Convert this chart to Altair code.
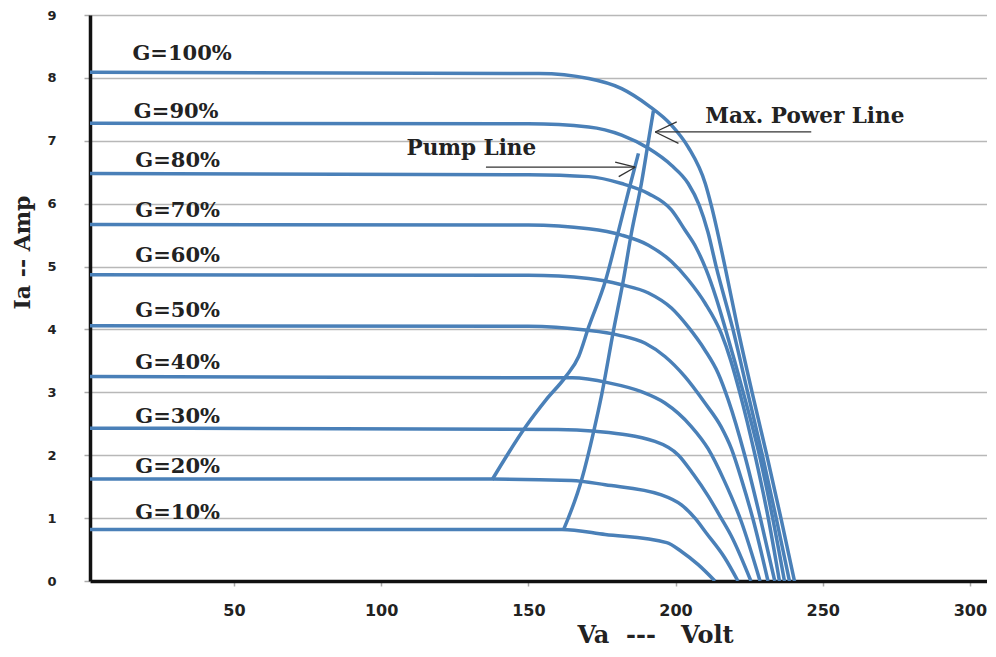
import altair as alt
import pandas as pd

# ---- I-V curves (Va in volts, Ia in amps) ----
g10_v = [0, 161.4, 176.1, 197.0, 202.0, 207.7, 213.4]
g10_i = [0.82, 0.82, 0.74, 0.61, 0.47, 0.26, 0.0]

g20_v = [0, 137.7, 164.7, 176.1, 195.2, 202.0, 206.6, 210.5, 216.7, 221.2]
g20_i = [1.62, 1.62, 1.60, 1.53, 1.37, 1.21, 1.00, 0.76, 0.37, 0.0]

g30_v = [0, 160.0, 172.8, 193.0, 201.0, 206.0, 211.1, 215.5, 218.9, 225.6]
g30_i = [2.43, 2.41, 2.38, 2.22, 2.00, 1.70, 1.35, 1.00, 0.72, 0.0]

g40_v = [0, 165.0, 177.3, 188.4, 196.4, 205.3, 211.1, 216.5, 222.3, 228.7]
g40_i = [3.25, 3.23, 3.15, 3.01, 2.83, 2.46, 2.10, 1.60, 0.95, 0.0]

g50_v = [0, 150.0, 169.4, 180.6, 189.7, 196.4, 203.2, 210.0, 215.5, 219.0, 222.5, 226.5, 231.4]
g50_i = [4.06, 4.05, 3.99, 3.91, 3.78, 3.57, 3.25, 2.83, 2.45, 2.10, 1.60, 0.95, 0.0]

g60_v = [0, 150.0, 170.5, 181.7, 190.8, 198.6, 204.3, 210.0, 214.5, 217.9, 223.5, 228.8, 233.7]
g60_i = [4.87, 4.86, 4.81, 4.71, 4.58, 4.34, 4.04, 3.67, 3.30, 2.88, 2.00, 1.00, 0.0]

g70_v = [0, 150.0, 170.5, 181.7, 190.8, 198.6, 204.3, 210.0, 215.5, 218.8, 221.8, 227.0, 231.5, 235.3]
g70_i = [5.67, 5.66, 5.60, 5.50, 5.34, 5.08, 4.79, 4.42, 3.94, 3.50, 3.00, 2.00, 1.00, 0.0]

g80_v = [0, 150.0, 170.5, 181.7, 190.8, 198.6, 203.2, 207.0, 210.4, 213.8, 217.0, 223.0, 228.5, 233.0, 237.0]
g80_i = [6.48, 6.46, 6.43, 6.32, 6.16, 5.90, 5.58, 5.30, 4.95, 4.50, 4.00, 3.00, 2.00, 1.00, 0.0]

g90_v = [0, 150.0, 170.5, 181.7, 190.8, 198.6, 204.3, 208.0, 211.0, 213.8, 219.5, 224.5, 229.5, 234.2, 238.7]
g90_i = [7.28, 7.27, 7.22, 7.09, 6.88, 6.61, 6.32, 5.98, 5.55, 5.00, 4.00, 3.00, 2.00, 1.00, 0.0]

g100_v = [0, 153.6, 170.5, 181.7, 190.8, 198.6, 204.3, 210.1, 212.1, 216.8, 221.2, 226.0, 231.0, 235.8, 240.4]
g100_i = [8.09, 8.07, 7.99, 7.83, 7.56, 7.25, 6.90, 6.32, 5.98, 5.00, 4.00, 3.00, 2.00, 1.00, 0.0]

# ---- pump line and maximum power line ----
pump_v = [137.7, 149.2, 156.0, 162.7, 167.1, 170.5, 176.3, 180.7, 184.1, 187.4]
pump_i = [1.61, 2.46, 2.88, 3.25, 3.57, 4.04, 4.79, 5.58, 6.21, 6.80]

mpl_v = [162.0, 168.1, 172.2, 174.9, 179.0, 182.3, 185.0, 188.4, 190.8, 192.5]
mpl_i = [0.82, 1.61, 2.38, 2.96, 4.00, 4.79, 5.53, 6.32, 7.00, 7.48]

# ---- curve labels ----
label_text = ["G=10%", "G=20%", "G=30%", "G=40%", "G=50%",
              "G=60%", "G=70%", "G=80%", "G=90%", "G=100%"]
label_v = [16.5, 16.5, 16.5, 16.5, 16.5, 16.5, 16.5, 16.5, 16.0, 15.5]
label_i = [0.99, 1.71, 2.51, 3.37, 4.20, 5.07, 5.79, 6.58, 7.36, 8.29]

# ---- annotations ----
note_text = ["Pump Line", "Max. Power Line"]
note_v = [108.6, 210.1]
note_i = [6.77, 7.28]

# arrow segments: shaft + two head strokes for each arrow
arrow_v1 = [135.6, 179.5, 180.7, 246.1, 200.4, 201.0]
arrow_i1 = [6.58, 6.66, 6.43, 7.14, 7.30, 6.96]
arrow_v2 = [186.3, 186.3, 186.3, 193.1, 193.1, 193.1]
arrow_i2 = [6.58, 6.58, 6.58, 7.14, 7.14, 7.14]

x_title = "Va\u00a0\u00a0---\u00a0\u00a0\u00a0Volt"
y_title = "Ia -- Amp"

series = [
    ("G=10%", g10_v, g10_i), ("G=20%", g20_v, g20_i), ("G=30%", g30_v, g30_i),
    ("G=40%", g40_v, g40_i), ("G=50%", g50_v, g50_i), ("G=60%", g60_v, g60_i),
    ("G=70%", g70_v, g70_i), ("G=80%", g80_v, g80_i), ("G=90%", g90_v, g90_i),
    ("G=100%", g100_v, g100_i), ("pump", pump_v, pump_i), ("mpl", mpl_v, mpl_i),
]
rows = []
for name, vs, is_ in series:
    for k, (v, i) in enumerate(zip(vs, is_)):
        rows.append({"curve": name, "V": v, "I": i, "k": k})
curves_df = pd.DataFrame(rows)

labels_df = pd.DataFrame({"text": label_text, "V": label_v, "I": label_i})
notes_df = pd.DataFrame({"text": note_text, "V": note_v, "I": note_i})
arrows_df = pd.DataFrame({"V": arrow_v1, "I": arrow_i1, "V2": arrow_v2, "I2": arrow_i2})

xscale = alt.Scale(domain=[1.1, 305.8], nice=False, zero=False)
yscale = alt.Scale(domain=[0, 9], nice=False, zero=False)

xaxis = alt.Axis(
    values=[50, 100, 150, 200, 250, 300], grid=False, format="d",
    title=x_title, titleFont="DejaVu Serif", titleFontSize=24,
    titleFontWeight="bold", titleColor="#222", titleX=565, titleY=61,
    titleBaseline="alphabetic", titleAlign="center",
    labelFont="DejaVu Sans", labelFontSize=16, labelFontWeight="bold",
    labelColor="#222", labelPadding=16, tickSize=5, tickColor="#aaaaaa",
    tickWidth=1.5, domainColor="#111111", domainWidth=3.5,
)
yaxis = alt.Axis(
    values=list(range(10)), grid=True, gridColor="#b8b8b8", gridWidth=1.5,
    format="d",
    title=y_title, titleFont="DejaVu Serif", titleFontSize=22,
    titleFontWeight="bold", titleColor="#222", titleAngle=270,
    titleX=-61, titleY=237, titleBaseline="alphabetic", titleAlign="center",
    labelFont="DejaVu Sans", labelFontSize=13, labelFontWeight="bold",
    labelColor="#222", labelPadding=28, tickSize=6, tickColor="#aaaaaa",
    tickWidth=1.5, domainColor="#111111", domainWidth=3.5,
)

lines = alt.Chart(curves_df).mark_line(
    interpolate="monotone", color="#4a80b8", strokeWidth=3.5, clip=True
).encode(
    x=alt.X("V:Q", scale=xscale, axis=xaxis),
    y=alt.Y("I:Q", scale=yscale, axis=yaxis),
    detail="curve:N",
    order="k:Q",
)

labels = alt.Chart(labels_df).mark_text(
    align="left", baseline="alphabetic", font="DejaVu Serif",
    fontSize=21, fontWeight="bold", color="#222"
).encode(x=alt.X("V:Q", scale=xscale), y=alt.Y("I:Q", scale=yscale), text="text:N")

notes = alt.Chart(notes_df).mark_text(
    align="left", baseline="alphabetic", font="DejaVu Serif",
    fontSize=21.5, fontWeight="bold", color="#222"
).encode(x=alt.X("V:Q", scale=xscale), y=alt.Y("I:Q", scale=yscale), text="text:N")

arrows = alt.Chart(arrows_df).mark_rule(color="#333333", strokeWidth=1.3).encode(
    x=alt.X("V:Q", scale=xscale), y=alt.Y("I:Q", scale=yscale),
    x2="V2:Q", y2="I2:Q",
)

chart = alt.layer(lines, labels, notes, arrows).properties(
    width=897, height=566,
    autosize=alt.AutoSizeParams(type="none"),
    padding={"left": 82, "top": 7, "right": 0, "bottom": 66},
).configure_view(stroke=None).configure(background="white")

chart.save("out.html", embed_options={"renderer": "svg", "actions": False})
